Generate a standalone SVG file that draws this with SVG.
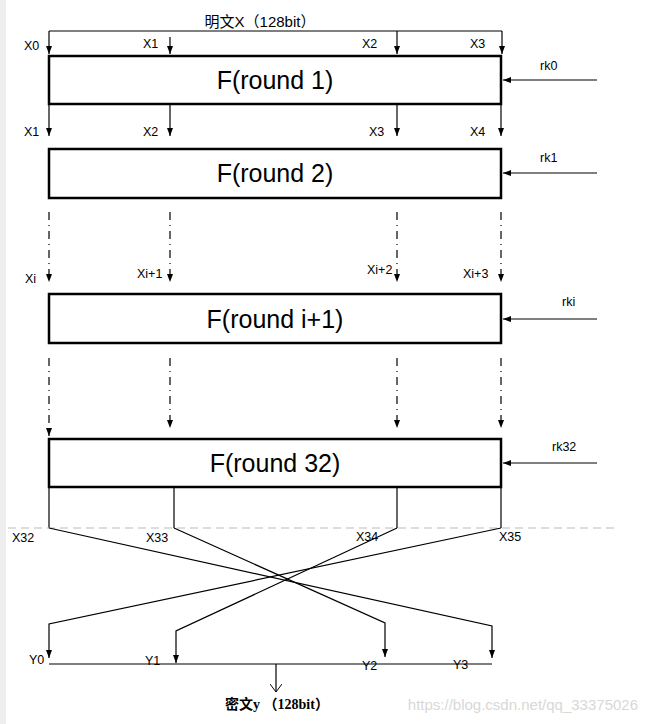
<svg xmlns="http://www.w3.org/2000/svg" width="646" height="724" viewBox="0 0 646 724">
<defs>
<marker id="ah" markerWidth="8" markerHeight="6" refX="8" refY="3" orient="auto" markerUnits="userSpaceOnUse"><path d="M0,0 L8,3 L0,6 z" fill="#000"/></marker>
<marker id="open" markerWidth="8" markerHeight="12" refX="8" refY="6" orient="auto" markerUnits="userSpaceOnUse"><path d="M0,0 L8,6 L0,12" fill="none" stroke="#000" stroke-width="1"/></marker>
<style>
.box{fill:#fff;stroke:#000;stroke-width:2.5}
.ln{fill:none;stroke:#000;stroke-width:1.2}
.arr{fill:none;stroke:#000;stroke-width:1.2;marker-end:url(#ah)}
.dd{fill:none;stroke:#000;stroke-width:1.2;stroke-dasharray:8,5,1,5;marker-end:url(#ah)}
.lbl{font-family:"Liberation Sans",Arial,sans-serif;font-size:12.5px;fill:#000}
.big{font-family:"Liberation Sans",Arial,sans-serif;font-size:25px;fill:#000;text-anchor:middle}
</style>
</defs>
<rect x="0" y="0" width="646" height="724" fill="#fff"/>
<rect x="0" y="0" width="6" height="724" fill="#eeeeee"/>

<g id="connectors">
<path class="ln" d="M49,31 H502"/>
<path class="arr" d="M49,31 V54"/>
<path class="arr" d="M170,37 V54"/>
<path class="arr" d="M397,31 V54"/>
<path class="arr" d="M502,31 V54"/>
<path class="arr" d="M49,105 V136"/>
<path class="arr" d="M170,105 V136"/>
<path class="arr" d="M397,105 V136"/>
<path class="arr" d="M501,105 V136"/>
<path class="dd" d="M49,212 V282"/>
<path class="dd" d="M170,212 V282"/>
<path class="dd" d="M397,212 V282"/>
<path class="dd" d="M501,212 V282"/>
<path class="dd" d="M49,358 V436"/>
<path class="dd" d="M170,358 V428"/>
<path class="dd" d="M397,358 V428"/>
<path class="dd" d="M501,358 V428"/>
<path class="arr" d="M597,80 H503"/>
<path class="arr" d="M597,173 H503"/>
<path class="arr" d="M597,319 H503"/>
<path class="arr" d="M597,463 H503"/>
<path class="ln" d="M49,488 V528"/>
<path class="ln" d="M174,488 V528"/>
<path class="ln" d="M397,488 V528"/>
<path class="ln" d="M501,488 V528"/>
<path d="M8,528 H614" fill="none" stroke="#bbbbbb" stroke-width="1" stroke-dasharray="8,5"/>
<path class="arr" d="M49,528 L492,626 V658"/>
<path class="arr" d="M174,528 L385,623 V657"/>
<path class="arr" d="M397,528 L176,631 V663"/>
<path class="arr" d="M501,528 L49,624 V658"/>
<path class="ln" d="M49,664 H492"/>
<path d="M276,664 V692" fill="none" stroke="#000" stroke-width="1.2" marker-end="url(#open)"/>
</g>

<g id="title"><text x="260" y="27" text-anchor="middle" font-family="'Liberation Sans','Noto Sans CJK SC',sans-serif" font-size="15">明文X（128bit）</text></g>

<g id="round1">
<rect class="box" x="49" y="56" width="452" height="48"/>
<text class="big" x="275" y="89">F(round 1)</text>
</g>
<g id="round2">
<rect class="box" x="49" y="149" width="452" height="49"/>
<text class="big" x="275" y="182">F(round 2)</text>
</g>
<g id="roundi">
<rect class="box" x="49" y="294" width="452" height="49"/>
<text class="big" x="275" y="328">F(round i+1)</text>
</g>
<g id="round32">
<rect class="box" x="49" y="439" width="452" height="48"/>
<text class="big" x="275" y="472">F(round 32)</text>
</g>

<g id="labels">
<text class="lbl" x="24" y="50">X0</text>
<text class="lbl" x="143" y="48">X1</text>
<text class="lbl" x="362" y="48">X2</text>
<text class="lbl" x="470" y="48">X3</text>
<text class="lbl" x="24" y="136">X1</text>
<text class="lbl" x="143" y="136">X2</text>
<text class="lbl" x="369" y="136">X3</text>
<text class="lbl" x="470" y="136">X4</text>
<text class="lbl" x="25" y="283">Xi</text>
<text class="lbl" x="137" y="278">Xi+1</text>
<text class="lbl" x="367" y="274">Xi+2</text>
<text class="lbl" x="463" y="278">Xi+3</text>
<text class="lbl" x="540" y="70">rk0</text>
<text class="lbl" x="540" y="162">rk1</text>
<text class="lbl" x="562" y="306">rki</text>
<text class="lbl" x="552" y="451">rk32</text>
<text class="lbl" x="12" y="542">X32</text>
<text class="lbl" x="146" y="542">X33</text>
<text class="lbl" x="356" y="541">X34</text>
<text class="lbl" x="499" y="541">X35</text>
<text class="lbl" x="29" y="664">Y0</text>
<text class="lbl" x="145" y="665">Y1</text>
<text class="lbl" x="362" y="670">Y2</text>
<text class="lbl" x="453" y="669">Y3</text>
</g>

<g id="output"><text x="277" y="709" text-anchor="middle" font-family="'Liberation Serif','Noto Sans CJK SC',serif" font-size="14" font-weight="bold">密文y （128bit）</text></g>
<text x="638" y="710" text-anchor="end" font-family="'Liberation Sans',Arial,sans-serif" font-size="15" fill="#d8d8d8">https://blog.csdn.net/qq_33375026</text>
</svg>
